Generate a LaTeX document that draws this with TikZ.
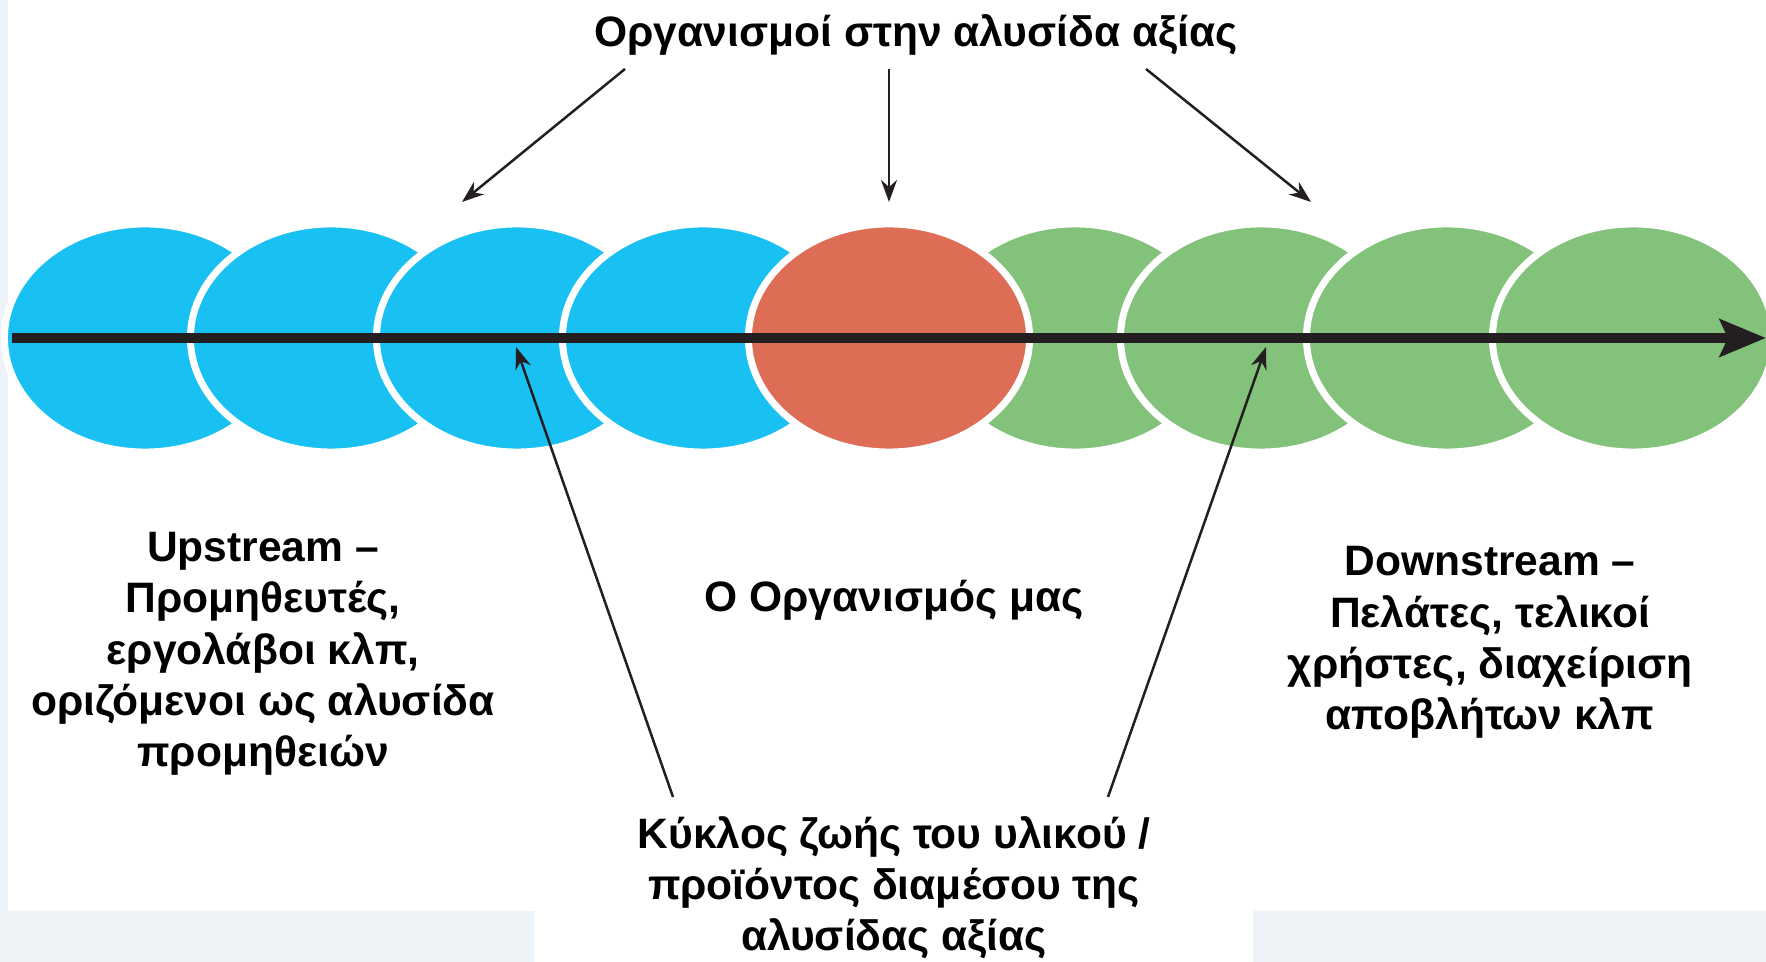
\documentclass[tikz,border=0pt]{standalone}
\usepackage{fontspec}
\setmainfont{Liberation Sans}
\usetikzlibrary{arrows.meta,shapes.geometric}
\definecolor{bgc}{HTML}{EEF3F8}
\definecolor{cblue}{HTML}{19C1F2}
\definecolor{cred}{HTML}{DE6D56}
\definecolor{cgreen}{HTML}{82C27A}
\definecolor{ink}{HTML}{231F20}
\begin{document}
\begin{tikzpicture}[x=0.01cm,y=-0.01cm,
  bead/.style={ellipse, inner sep=0pt, minimum width=2.81cm, minimum height=2.28cm, draw=white, line width=0.07cm},
  lbl/.style={font=\fontsize{12.1pt}{14.6pt}\selectfont\bfseries, align=center, inner sep=0pt, text=black},
  pointer/.style={draw=ink, line width=0.025cm, -{Stealth[length=0.22cm,width=0.16cm]}},
  mainline/.style={draw=ink, line width=0.1cm, -{Stealth[length=0.46cm,width=0.37cm,inset=0.08cm]}}]
\useasboundingbox (0,0) rectangle (1766,962);
\begin{scope}
\clip (0,0) rectangle (1766,962);
% background
\fill[bgc] (0,0) rectangle (1766,962);
\fill[white] (8,0) rectangle (1766,911);
\fill[white] (534,911) rectangle (1253,962);
% beads
\foreach \i/\c in {1/cblue,2/cblue,3/cblue,4/cblue,6/cgreen,7/cgreen,8/cgreen,9/cgreen}
  \node[bead, fill=\c] (b\i) at ({145+186*(\i-1)},338) {};
\node[bead, fill=cred] (b5) at (889,338) {};
% main axis
\coordinate (axstart) at (12,338);
\coordinate (axend) at (1766,338);
\draw[mainline] (axstart) -- (axend);
\end{scope}
% labels (anchor=base is the baseline of the last line)
\node[lbl, anchor=base] (title) at (916,47) {Οργανισμοί στην αλυσίδα αξίας};
\node[lbl, anchor=base] (up) at (263,767) {Upstream –\\Προμηθευτές,\\εργολάβοι κλπ,\\οριζόμενοι ως αλυσίδα\\προμηθειών};
\node[lbl, anchor=base] (us) at (894,612) {Ο Οργανισμός μας};
\node[lbl, anchor=base] (down) at (1490,730) {Downstream –\\Πελάτες, τελικοί\\χρήστες, διαχείριση\\αποβλήτων κλπ};
\node[lbl, anchor=base] (life) at (894,951) {Κύκλος ζωής του υλικού /\\προϊόντος διαμέσου της\\αλυσίδας αξίας};
% pointers
\coordinate (t1) at (625,69);  \coordinate (p1) at (462,202);
\coordinate (t2) at (889,69);  \coordinate (p2) at (889,202);
\coordinate (t3) at (1146,69); \coordinate (p3) at (1311,202);
\coordinate (t4) at (673,797); \coordinate (p4) at (516,347);
\coordinate (t5) at (1108,797); \coordinate (p5) at (1266,347);
\draw[pointer] (t1) -- (p1);
\draw[pointer] (t2) -- (p2);
\draw[pointer] (t3) -- (p3);
\draw[pointer] (t4) -- (p4);
\draw[pointer] (t5) -- (p5);
\end{tikzpicture}
\end{document}
